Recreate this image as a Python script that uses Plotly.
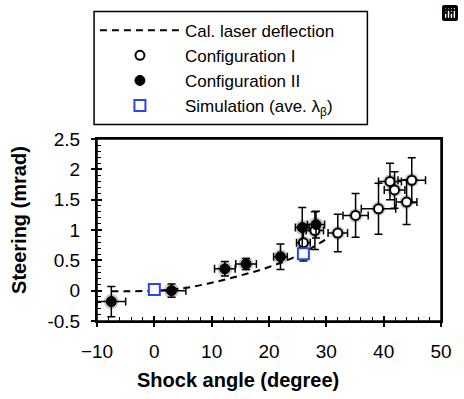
import plotly.graph_objects as go

# Calculated laser deflection (dashed curve)
cal_x = [-7.5, -5, 0, 5, 10, 15, 20, 25, 30]
cal_y = [-0.01, -0.01, 0.0, 0.04, 0.13, 0.25, 0.39, 0.58, 0.85]

# Configuration I (open circles)
c1_x = [26.0, 28.0, 32.0, 35.1, 39.1, 41.1, 41.9, 44.0, 44.9]
c1_y = [0.79, 0.99, 0.95, 1.24, 1.35, 1.80, 1.66, 1.46, 1.82]
c1_xerr = [1.2, 1.5, 1.7, 2.2, 3.0, 2.0, 1.8, 1.8, 2.4]
c1_yerr = [0.30, 0.31, 0.31, 0.36, 0.42, 0.30, 0.30, 0.37, 0.37]

# Configuration II (filled circles)
c2_x = [-7.5, 3.0, 12.3, 16.0, 22.0, 25.8, 28.2]
c2_y = [-0.18, 0.0, 0.36, 0.44, 0.56, 1.04, 1.09]
c2_xerr = [2.5, 2.5, 1.8, 1.8, 1.2, 1.2, 1.5]
c2_yerr = [0.25, 0.11, 0.12, 0.09, 0.21, 0.33, 0.22]

# Simulation (average lambda_beta)
sim_x = [0, 26]
sim_y = [0.02, 0.61]

x_ticks = [-10, 0, 10, 20, 30, 40, 50]
y_ticks = [-0.5, 0, 0.5, 1, 1.5, 2, 2.5]
y_ticklabels = ["-0.5", "0", "0.5", "1", "1.5", "2", "2.5"]

x_title = "Shock angle (degree)"
y_title = "Steering (mrad)"

FONT = "Liberation Sans, Arial, sans-serif"
BLUE = "#2a44f2"
FS_LEG = 17
FS_TICK = 19
FS_TITLE = 20
CLEAR = "rgba(0,0,0,0)"

fig = go.Figure()

err = dict(type="data", color="black", thickness=1.5, width=4)

# soft halo under markers
fig.add_trace(go.Scatter(x=c2_x, y=c2_y, mode="markers", showlegend=False, hoverinfo="skip",
                         marker=dict(size=15, color="rgba(0,0,0,0.22)", line=dict(width=0))))
fig.add_trace(go.Scatter(x=c1_x, y=c1_y, mode="markers", showlegend=False, hoverinfo="skip",
                         marker=dict(size=14, color="rgba(0,0,0,0.22)", line=dict(width=0))))

fig.add_trace(go.Scatter(
    x=cal_x, y=cal_y, mode="lines", name="Cal. laser deflection",
    line=dict(color="black", width=2, dash="7px,5px"), line_shape="spline"))

fig.add_trace(go.Scatter(
    x=c1_x, y=c1_y, mode="markers", name="Configuration I",
    marker=dict(size=9, color="white", line=dict(color="black", width=2)),
    error_x=dict(array=c1_xerr, **err), error_y=dict(array=c1_yerr, **err)))

fig.add_trace(go.Scatter(
    x=c2_x, y=c2_y, mode="markers", name="Configuration II",
    marker=dict(size=10, color="black", line=dict(color="black", width=1)),
    error_x=dict(array=c2_xerr, **err), error_y=dict(array=c2_yerr, **err)))

fig.add_trace(go.Scatter(
    x=sim_x, y=sim_y, mode="markers", name="Simulation (ave. λ<sub>β</sub>)",
    marker=dict(size=11, symbol="square", color="white", line=dict(color=BLUE, width=2))))

# invisible traces to activate the overlay axes
fig.add_trace(go.Scatter(x=[None], y=[None], xaxis="x2", yaxis="y2", showlegend=False,
                         hoverinfo="skip"))
fig.add_trace(go.Scatter(x=[None], y=[None], xaxis="x3", yaxis="y3", showlegend=False,
                         hoverinfo="skip"))

noline = dict(showgrid=False, zeroline=False, showline=False)

fig.update_layout(
    width=464, height=399,
    margin=dict(l=97, r=12, t=133, b=78),
    paper_bgcolor="white", plot_bgcolor="white",
    font=dict(family=FONT, size=FS_LEG, color="black"),
    modebar=dict(bgcolor=CLEAR, color=CLEAR, activecolor=CLEAR),
    showlegend=True,
    legend=dict(x=-0.006, y=1.694, xanchor="left", yanchor="top",
                borderwidth=0, bgcolor=CLEAR,
                font=dict(family=FONT, size=FS_LEG), itemwidth=80,
                traceorder="normal", tracegroupgap=0),
    shapes=[dict(type="rect", xref="paper", yref="paper",
                 x0=-0.0085, x1=0.786, y0=1.08, y1=1.70,
                 line=dict(color="black", width=1.5), fillcolor=CLEAR),
            dict(type="rect", xref="paper", yref="paper", x0=0, x1=1, y0=0, y1=1,
                 line=dict(color="black", width=1.5), fillcolor=CLEAR)],
    annotations=[
        dict(text="<b>" + x_title + "</b>", xref="paper", yref="paper", x=0.41, y=-0.324,
             xanchor="center", yanchor="middle", showarrow=False,
             font=dict(size=FS_TITLE, family=FONT)),
        dict(text="<b>" + y_title + "</b>", xref="paper", yref="paper", x=-0.225, y=0.553,
             xanchor="center", yanchor="middle", showarrow=False, textangle=-90,
             font=dict(size=FS_TITLE, family=FONT)),
    ],
    # main axes: frame, inside major + minor ticks
    xaxis=dict(range=[-10, 50], tickmode="array", tickvals=x_ticks, showticklabels=False,
               showgrid=False, zeroline=False, showline=True, mirror=True,
               linecolor="black", linewidth=1.5,
               ticks="inside", ticklen=5, tickcolor="black", tickwidth=1.5,
               minor=dict(dtick=2, ticks="inside", ticklen=4, tickcolor="black", tickwidth=1)),
    yaxis=dict(range=[-0.5, 2.5], tickmode="array", tickvals=y_ticks, showticklabels=False,
               showgrid=False, zeroline=False, showline=True, mirror=True,
               linecolor="black", linewidth=1.5,
               ticks="inside", ticklen=5, tickcolor="black", tickwidth=1.5,
               minor=dict(dtick=0.1, ticks="inside", ticklen=4, tickcolor="black", tickwidth=1)),
    # overlay 2: outside major ticks
    xaxis2=dict(range=[-10, 50], overlaying="x", side="bottom", tickmode="array",
                tickvals=x_ticks, showticklabels=False, ticks="outside", ticklen=5,
                tickcolor="black", tickwidth=1.5, **noline),
    yaxis2=dict(range=[-0.5, 2.5], overlaying="y", side="left", tickmode="array",
                tickvals=y_ticks, showticklabels=False, ticks="outside", ticklen=5,
                tickcolor="black", tickwidth=1.5, **noline),
    # overlay 3: tick labels, pushed away with transparent ticks
    xaxis3=dict(range=[-10, 50], overlaying="x", side="bottom", tickmode="array",
                tickvals=x_ticks, showticklabels=True, ticks="outside", ticklen=13,
                tickcolor=CLEAR, tickfont=dict(size=FS_TICK, family=FONT), **noline),
    yaxis3=dict(range=[-0.5, 2.5], overlaying="y", side="left", tickmode="array",
                tickvals=y_ticks, ticktext=y_ticklabels, showticklabels=True,
                ticks="outside", ticklen=12, tickcolor=CLEAR,
                tickfont=dict(size=FS_TICK, family=FONT), **noline),
)

fig.write_html("out.html",
               post_script="document.body.style.margin='0px';document.body.style.overflow='hidden';")
